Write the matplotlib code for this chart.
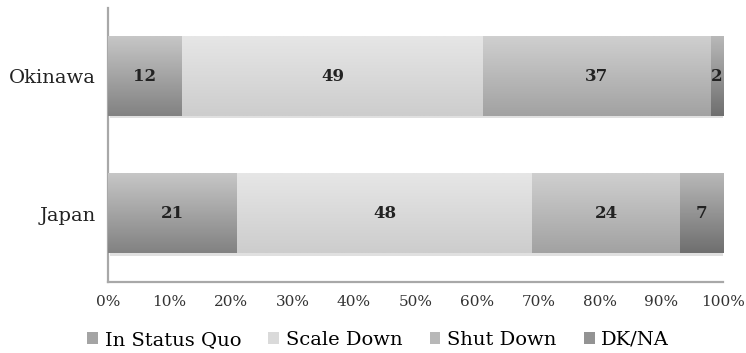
import matplotlib
matplotlib.use("Agg")
import matplotlib.pyplot as plt
import matplotlib.patheffects as pe
import numpy as np
from matplotlib.colors import LinearSegmentedColormap
from matplotlib.patches import Patch

plt.rcParams["font.family"] = ["DejaVu Serif"]

# 地域（下から順）
REGIONS = ["Japan", "Okinawa"]

# 回答の内訳（%）
STATUS_QUO = [21, 12]
SCALE_DOWN = [48, 49]
SHUT_DOWN = [24, 37]
DK_NA = [7, 2]

SERIES_NAMES = ["In Status Quo", "Scale Down", "Shut Down", "DK/NA"]
XTICKS = list(range(0, 101, 10))

# 各系列のグラデーション（上端色, 下端色）
GRADIENTS = [
    ("#c6c6c6", "#828282"),
    ("#e6e6e6", "#cdcdcd"),
    ("#cfcfcf", "#a2a2a2"),
    ("#b8b8b8", "#6f6f6f"),
]
LEGEND_COLORS = ["#a4a4a4", "#dadada", "#b8b8b8", "#939393"]

BAR_H = 0.575


def main() -> None:
    fig = plt.figure(figsize=(7.46, 3.53), dpi=100)
    fig.patch.set_facecolor("white")
    ax = fig.add_axes([0.1448, 0.2011, 0.9692 - 0.1448, 0.9773 - 0.2011])

    ypos = np.arange(len(REGIONS))
    series = [STATUS_QUO, SCALE_DOWN, SHUT_DOWN, DK_NA]
    left = np.zeros(len(REGIONS))
    grad = np.linspace(0, 1, 64).reshape(-1, 1)

    for vals, (top, bot) in zip(series, GRADIENTS):
        vals = np.asarray(vals, dtype=float)
        bars = ax.barh(ypos, vals, left=left, height=BAR_H, color=bot,
                       edgecolor="none", zorder=2)
        cmap = LinearSegmentedColormap.from_list("g", [top, bot])
        for b, v in zip(bars, vals):
            b.set_path_effects([pe.SimplePatchShadow(offset=(1.5, -1.5),
                                                     shadow_rgbFace="#000000",
                                                     alpha=0.12),
                                pe.Normal()])
            x0, y0 = b.get_x(), b.get_y()
            # origin="upper" なので1行目（上端色）が extent の上側に来る
            ax.imshow(grad, cmap=cmap, aspect="auto", zorder=3,
                      extent=(x0, x0 + b.get_width(), y0, y0 + b.get_height()),
                      interpolation="bilinear")
            ax.text(x0 + b.get_width() / 2, y0 + b.get_height() / 2, f"{v:g}",
                    ha="center", va="center", fontsize=12, fontweight="bold",
                    color="#222222", zorder=4)
        left += vals

    ax.set_xlim(0, 100)
    ax.set_ylim(-0.495, 1.498)
    ax.set_xticks(XTICKS)
    ax.set_xticklabels([f"{t}%" for t in XTICKS])
    ax.set_yticks(ypos)
    ax.set_yticklabels(REGIONS)
    ax.tick_params(axis="x", length=0, pad=9, labelsize=11, labelcolor="#333333")
    ax.tick_params(axis="y", length=0, pad=9, labelsize=14, labelcolor="#222222")

    for side in ["top", "right"]:
        ax.spines[side].set_visible(False)
    for side in ["left", "bottom"]:
        ax.spines[side].set_color("#a8a8a8")
        ax.spines[side].set_linewidth(1.6)

    handles = [Patch(facecolor=c, edgecolor="none") for c in LEGEND_COLORS]
    fig.legend(handles, SERIES_NAMES, loc="center", ncol=4,
               bbox_to_anchor=(0.507, 0.037), frameon=False, fontsize=14,
               handlelength=0.55, handleheight=0.55, handletextpad=0.35,
               columnspacing=1.4, borderaxespad=0, borderpad=0)

    fig.savefig("out.png", dpi=100, facecolor="white")
    plt.close(fig)


if __name__ == "__main__":
    main()
